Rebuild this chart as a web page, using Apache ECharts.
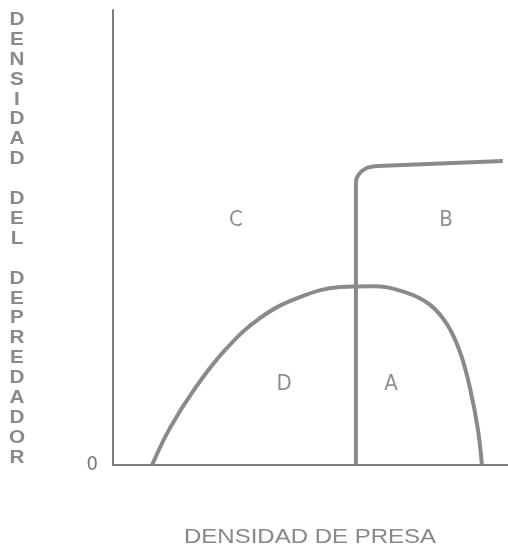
<!DOCTYPE html>
<html>
<head>
  <meta charset="utf-8">
  <title>Densidad de presa</title>
  <script src="https://cdn.jsdelivr.net/npm/echarts@6/dist/echarts.min.js"></script>
  <style>
    html, body { margin: 0; padding: 0; background: #fff; }
    #main { width: 508px; height: 546px; }
  </style>
</head>
<body>
<div id="main"></div>
<script>
// isoclina de la presa (joroba)
var presaX = [9.9, 14.4, 20.8, 28.4, 37.2, 47.3, 57.5, 65.6, 73.9, 80.3, 84.8, 88.1, 90.6, 92.4, 93.4];
var presaY = [0, 8.1, 16.9, 25.3, 32.3, 36.9, 39.1, 39.3, 38.0, 35.2, 30.6, 24.2, 16.0, 7.7, 0];

// isoclina del depredador (vertical, curva y casi horizontal)
var depX = [61.5, 61.5, 61.7, 62.3, 63.1, 64.3, 65.7, 67.1, 98.7];
var depY = [0, 62.2, 63.1, 64.0, 64.7, 65.3, 65.6, 65.7, 66.8];

// etiquetas de las zonas
var zonas = ['C', 'B', 'D', 'A'];
var zonaX = [31.1, 84.3, 43.3, 70.4];
var zonaY = [53.8, 53.8, 17.8, 17.8];

var tituloY = 'DENSIDAD DEL DEPREDADOR';
var tituloX = 'DENSIDAD DE PRESA';

function pares(xs, ys) {
  var out = [];
  for (var i = 0; i < xs.length; i++) out.push([xs[i], ys[i]]);
  return out;
}

var gris = '#8a8a8a';
var myChart = echarts.init(document.getElementById('main'));

var option = {
  backgroundColor: '#fff',
  animation: false,
  grid: { left: 113, right: 0, top: 10, bottom: 81, outerBoundsMode: 'none' },
  xAxis: {
    type: 'value', min: 0, max: 100,
    axisLine: { show: true, lineStyle: { color: '#7d7d7d', width: 2 } },
    axisTick: { show: false },
    axisLabel: { show: false },
    splitLine: { show: false }
  },
  yAxis: {
    type: 'value', min: 0, max: 100, interval: 100,
    axisLine: { show: true, lineStyle: { color: '#7d7d7d', width: 2 } },
    axisTick: { show: false },
    splitLine: { show: false },
    axisLabel: {
      showMaxLabel: false,
      margin: 15,
      padding: [10, 0, 0, 0],
      color: '#7a7a7a',
      fontSize: 20,
      fontFamily: 'Liberation Sans Narrow, DejaVu Sans Condensed, sans-serif',
      formatter: function (v) { return v === 0 ? '0' : ''; }
    }
  },
  series: [
    {
      type: 'line',
      data: pares(presaX, presaY),
      smooth: 0.4,
      symbol: 'none',
      lineStyle: { color: gris, width: 4 }
    },
    {
      type: 'line',
      data: pares(depX, depY),
      smooth: false,
      symbol: 'none',
      lineStyle: { color: gris, width: 4, join: 'round' }
    },
    {
      type: 'scatter',
      data: pares(zonaX, zonaY).map(function (p, i) { return { value: p, name: zonas[i] }; }),
      symbolSize: 0,
      label: {
        show: true,
        position: 'inside',
        formatter: function (p) { return p.name; },
        color: '#737373',
        fontSize: 22,
        fontFamily: 'Liberation Sans Narrow, DejaVu Sans Condensed, sans-serif'
      }
    }
  ],
  graphic: [
    {
      type: 'text',
      x: 17,
      y: 10,
      scaleX: 1.15,
      style: {
        text: tituloY.split('').join('\n'),
        fill: '#8a8a8a',
        font: 'bold 18px "Liberation Sans", Arial, sans-serif',
        lineHeight: 19.9,
        align: 'center'
      }
    },
    {
      type: 'text',
      x: 310,
      y: 537,
      scaleX: 1.2,
      style: {
        text: tituloX,
        fill: '#888',
        font: '20px "Liberation Sans", Arial, sans-serif',
        align: 'center',
        verticalAlign: 'middle'
      }
    }
  ]
};

myChart.setOption(option);
</script>
</body>
</html>
